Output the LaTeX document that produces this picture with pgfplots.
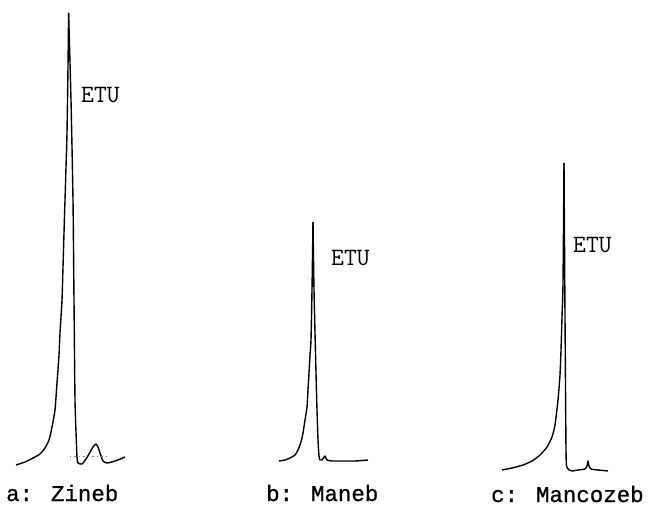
\documentclass[border=0pt]{standalone}
\usepackage{pgfplots}
\pgfplotsset{compat=1.18}
\usepackage{fontspec}
\newfontfamily\labfont[FakeBold=0.8]{Liberation Mono}
\begin{document}
\begin{tikzpicture}
\begin{axis}[
  scale only axis, width=658bp, height=508bp,
  xmin=0, xmax=658, ymin=0, ymax=508, y dir=reverse,
  axis lines=none, clip=false,
]
% a: Zineb
\addplot[black, line width=1.4pt, smooth, tension=0.35, line join=round] coordinates {
(16,465) (25,462) (33,458) (40,454) (45,448) (49,440) (52,427) (55,410) (57,383) (59,355) (60,333) (62,300) (63,267) (64,233) (65,200) (66,167) (67,133) (68,67) (68.6,13)};
\addplot[black, line width=1.4pt, smooth, tension=0.35, line join=round] coordinates {
(68.6,13) (71,100) (73,200) (74,300) (75,400) (76.5,445) (77,457) (78,463) (82,464) (86,459) (89,454) (93,447) (96,444) (98,447) (100,453) (103,461) (107,463) (115,461) (125,457)};
\addplot[gray, very thin, dash pattern=on 1.5pt off 3pt] coordinates {(70,456) (110,456)};
% b: Maneb
\addplot[black, line width=1.4pt, smooth, tension=0.35, line join=round] coordinates {
(279,461) (285,460) (290,458) (295,455) (298,450) (301,442) (303,433) (305,420) (307,407) (308,390) (309,373) (310,355) (311,340) (312,290) (313,222)};
\addplot[black, line width=1.4pt, smooth, tension=0.35, line join=round] coordinates {
(313,222) (314,290) (316,373) (317,410) (318,440) (319,456) (320,460) (322,460) (324,457) (325,456) (327,460) (332,461) (340,461) (355,461) (368,460)};
% c: Mancozeb
\addplot[black, line width=1.4pt, smooth, tension=0.35, line join=round] coordinates {
(502,470) (512,468) (523,465) (532,461) (540,455) (547,447) (552,437) (555,425) (558,400) (560,375) (561,350) (562,317) (563,283) (564,163)};
\addplot[black, line width=1.4pt, smooth, tension=0.35, line join=round] coordinates {
(564,163) (564.5,240) (565,317) (565.6,400) (566,450) (566.5,466) (569,470) (572,471) (578,470) (585,469) (587,466) (588,461) (589,466) (591,469) (598,470) (608,471)};
% labels
\node[anchor=base west, inner sep=0pt, font=\fontsize{25}{25}\ttfamily] at (axis cs:81,103) {ETU};
\node[anchor=base west, inner sep=0pt, font=\fontsize{25}{25}\ttfamily] at (axis cs:331,265) {ETU};
\node[anchor=base west, inner sep=0pt, font=\fontsize{25}{25}\ttfamily] at (axis cs:573,252) {ETU};
\node[anchor=base west, inner sep=0pt, font=\fontsize{22.5}{22.5}\labfont] at (axis cs:6,501) {a: Zineb};
\node[anchor=base west, inner sep=0pt, font=\fontsize{22.5}{22.5}\labfont] at (axis cs:266,501) {b: Maneb};
\node[anchor=base west, inner sep=0pt, font=\fontsize{22.5}{22.5}\labfont] at (axis cs:491,502) {c: Mancozeb};
\end{axis}
\pgfresetboundingbox
\path[use as bounding box] (current axis.south west) rectangle (current axis.north east);
\end{tikzpicture}
\end{document}
